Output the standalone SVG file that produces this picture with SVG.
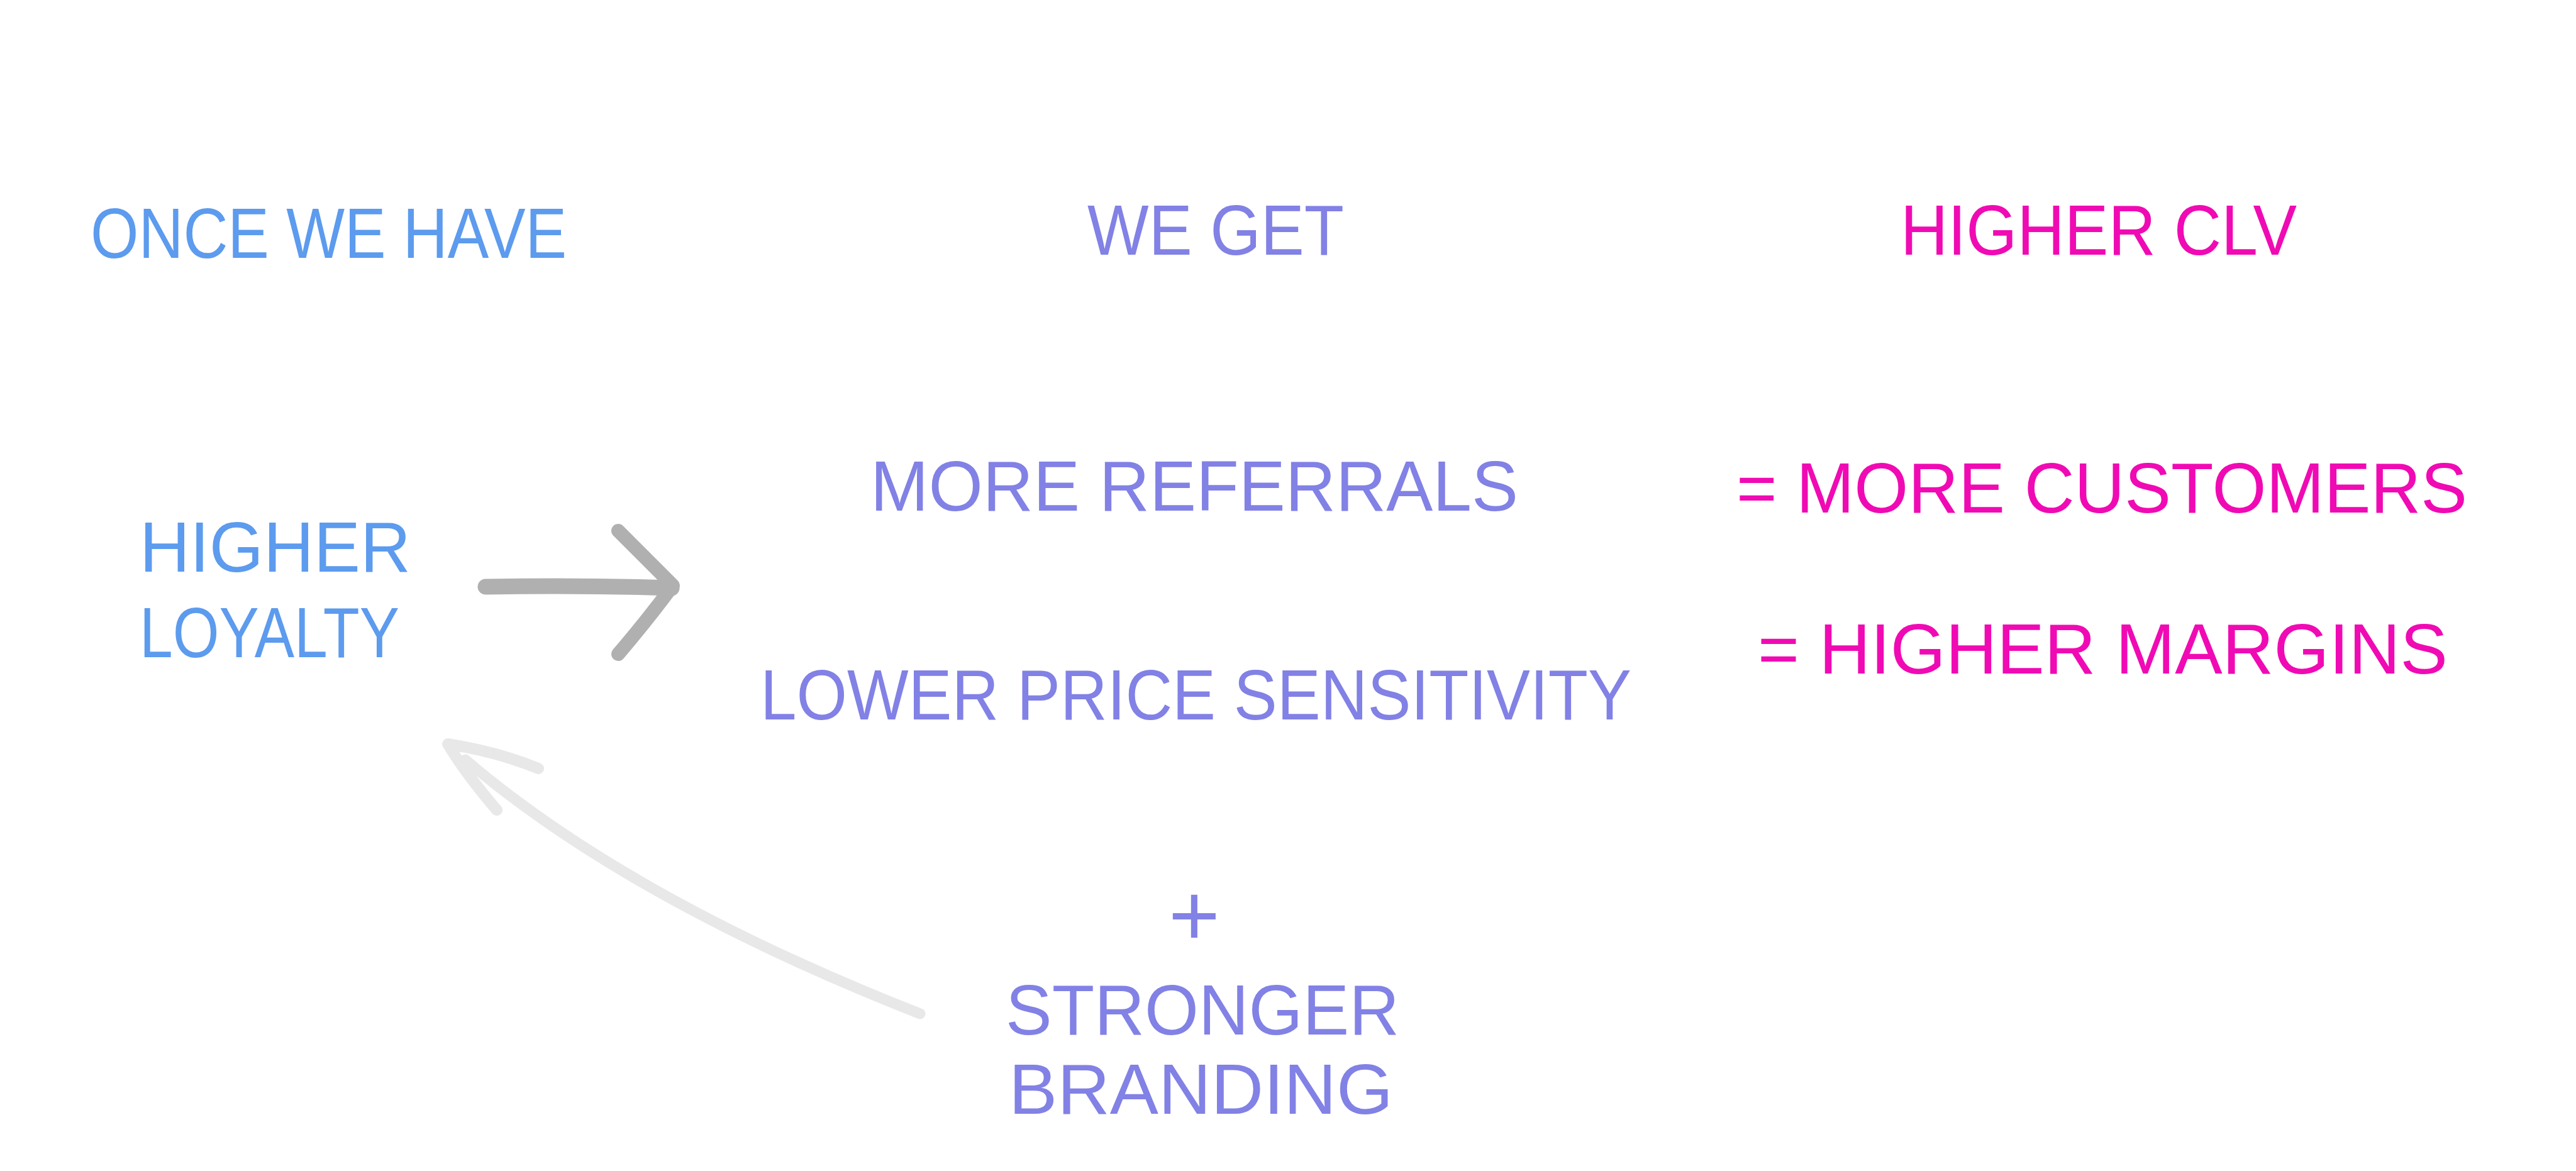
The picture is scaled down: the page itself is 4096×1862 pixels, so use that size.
<svg xmlns="http://www.w3.org/2000/svg" width="4096" height="1862" viewBox="0 0 4096 1862">
<style>
text{font-family:"Liberation Sans",Arial,sans-serif;font-size:114px;}
.b{fill:#5c9bee;}
.p{fill:#8281e5;}
.m{fill:#f00ab4;}
</style>
<rect width="4096" height="1862" fill="#ffffff"/>
<g id="connectors" fill="none" stroke-linecap="round" stroke-linejoin="round">
<g id="arrow-main" stroke="#b0b0b0">
<path d="M772 933 Q920 930 1068 935" stroke-width="25"/>
<path d="M983 844 L1070 931 Q1030 985 983 1040" stroke-width="22"/>
</g>
<g id="arrow-back" stroke="#e8e8e8">
<path d="M1463 1612 Q1000 1430 740 1208" stroke-width="17"/>
<path d="M856 1222 Q790 1195 712 1183 Q740 1230 790 1288" stroke-width="18"/>
</g>
</g>
<g id="col-once"><text class="b" x="144" y="410" textLength="757" lengthAdjust="spacingAndGlyphs">ONCE WE HAVE</text></g>
<g id="col-weget"><text class="p" x="1729" y="405" textLength="408" lengthAdjust="spacingAndGlyphs">WE GET</text></g>
<g id="col-clv"><text class="m" x="3022" y="405" textLength="630" lengthAdjust="spacingAndGlyphs">HIGHER CLV</text></g>
<g id="node-loyalty">
<text class="b" x="222" y="909" textLength="431" lengthAdjust="spacingAndGlyphs">HIGHER</text>
<text class="b" x="222" y="1045" textLength="413" lengthAdjust="spacingAndGlyphs">LOYALTY</text>
</g>
<g id="node-referrals"><text class="p" x="1384" y="812" textLength="1030" lengthAdjust="spacingAndGlyphs">MORE REFERRALS</text></g>
<g id="node-price"><text class="p" x="1209" y="1144" textLength="1385" lengthAdjust="spacingAndGlyphs">LOWER PRICE SENSITIVITY</text></g>
<g id="node-customers"><text class="m" x="2761" y="815" textLength="1162" lengthAdjust="spacingAndGlyphs">= MORE CUSTOMERS</text></g>
<g id="node-margins"><text class="m" x="2795" y="1071" textLength="1097" lengthAdjust="spacingAndGlyphs">= HIGHER MARGINS</text></g>
<g id="node-branding">
<text class="p" x="1899" y="1503" text-anchor="middle" style="font-size:140px">+</text>
<text class="p" x="1599" y="1645" textLength="626" lengthAdjust="spacingAndGlyphs">STRONGER</text>
<text class="p" x="1604" y="1771" textLength="611" lengthAdjust="spacingAndGlyphs">BRANDING</text>
</g>
</svg>
